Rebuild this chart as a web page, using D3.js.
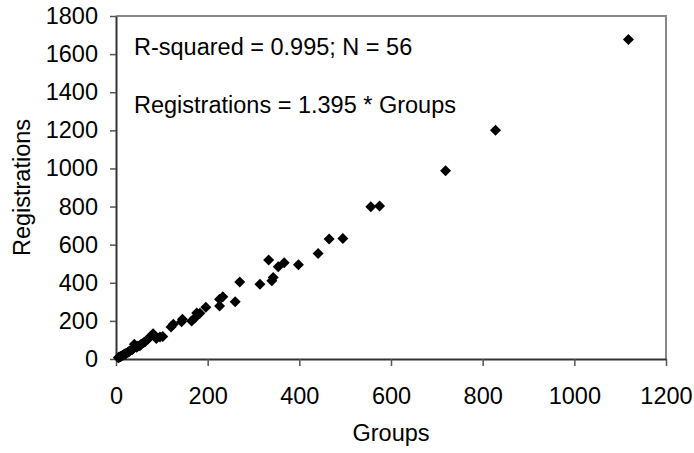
<!DOCTYPE html>
<html>
<head>
<meta charset="utf-8">
<script src="https://cdn.jsdelivr.net/npm/d3@7"></script>
<style>
    body { margin: 0; background: #fff; }
    svg { display: block; }
</style>
</head>
<body>
<svg class="chart"></svg>
<script>
// values
const groups = [
    1118, 828, 719, 575, 556, 495, 465, 441, 398, 367,
    354, 333, 343, 340, 314, 270, 260, 233, 226, 226,
    196, 183, 176, 172, 165, 145, 143, 125, 120, 102,
    96, 81, 75, 70, 64, 60, 55, 48, 40, 38,
    35, 30, 26, 22, 18, 15, 12, 10, 8, 6,
    5, 20, 28, 45, 52, 88,
];
const registrations = [
    1677, 1200, 988, 803, 799, 632, 630, 554, 495, 505,
    484, 519, 428, 411, 392, 404, 301, 327, 313, 278,
    271, 240, 242, 215, 200, 208, 195, 182, 168, 118,
    115, 132, 118, 105, 92, 85, 78, 68, 78, 55,
    48, 42, 35, 30, 26, 20, 16, 13, 11, 9,
    7, 24, 38, 62, 70, 108,
];
const xTicks = [0, 200, 400, 600, 800, 1000, 1200];
const yTicks = [0, 200, 400, 600, 800, 1000, 1200, 1400, 1600, 1800];
const notes = ["R-squared = 0.995; N = 56", "Registrations = 1.395 * Groups"];

const width = 694;
const height = 453;
const margin = { top: 16, right: 28, bottom: 94, left: 116 };
const font = "Arial, 'Liberation Sans', sans-serif";
const fontSize = 23.5;

const svg = d3
    .select(".chart")
    .attr("width", width)
    .attr("height", height)
    .attr("viewBox", [0, 0, width, height]);

const x = d3
    .scaleLinear()
    .domain([0, 1200])
    .range([margin.left, width - margin.right]);

const y = d3
    .scaleLinear()
    .domain([0, 1800])
    .range([height - margin.bottom, margin.top]);

// grey frame on top and right
svg.append("path")
    .attr("fill", "none")
    .attr("stroke", "#888")
    .attr("stroke-width", 2)
    .attr("d", `M${x(0)},${y(1800)} H${x(1200)} V${y(0)}`);

// x axis
const xAxis = svg.append("g")
    .attr("transform", `translate(0, ${y(0)})`)
    .call(d3.axisBottom(x).tickValues(xTicks).tickFormat(d3.format("d"))
        .tickSize(7).tickPadding(21).tickSizeOuter(0));

// y axis
const yAxis = svg.append("g")
    .attr("transform", `translate(${x(0)}, 0)`)
    .call(d3.axisLeft(y).tickValues(yTicks).tickFormat(d3.format("d"))
        .tickSize(6).tickPadding(12).tickSizeOuter(0));

[xAxis, yAxis].forEach((g) => {
    g.select(".domain").attr("stroke", "#333").attr("stroke-width", 2);
    g.selectAll(".tick line").attr("stroke", "#555").attr("stroke-width", 1.5);
    g.selectAll(".tick text")
        .style("font-family", font)
        .style("font-size", fontSize + "px")
        .attr("fill", "#000");
});

// diamond markers
const diamond = "M0,-5.5L5.5,0L0,5.5L-5.5,0Z";
svg.append("g")
    .selectAll("path")
    .data(groups)
    .join("path")
    .attr("d", diamond)
    .attr("fill", "#000")
    .attr("transform", (d, i) => `translate(${x(d)}, ${y(registrations[i])})`);

// annotations
svg.append("g")
    .selectAll("text")
    .data(notes)
    .join("text")
    .attr("x", 134)
    .attr("y", (d, i) => 55 + i * 57.5)
    .style("font-family", font)
    .style("font-size", fontSize + "px")
    .attr("fill", "#000")
    .text((d) => d);

// axis titles
svg.append("text")
    .attr("x", (x(0) + x(1200)) / 2)
    .attr("y", 441)
    .attr("text-anchor", "middle")
    .style("font-family", font)
    .style("font-size", fontSize + "px")
    .text("Groups");

svg.append("text")
    .attr("transform", `translate(30, ${(y(0) + y(1800)) / 2}) rotate(-90)`)
    .attr("text-anchor", "middle")
    .style("font-family", font)
    .style("font-size", fontSize + "px")
    .text("Registrations");
</script>
</body>
</html>
